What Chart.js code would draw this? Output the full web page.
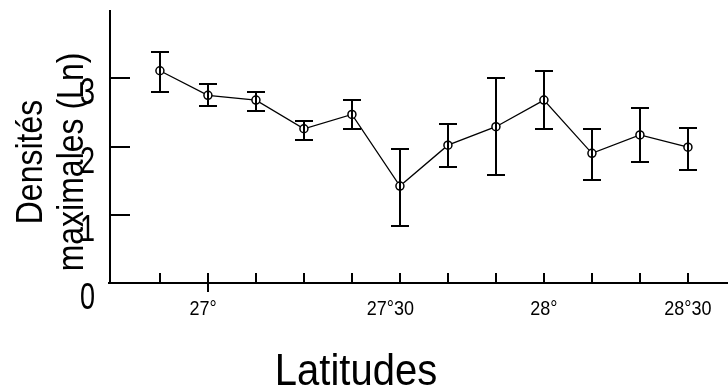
<!DOCTYPE html>
<html>
<head>
<meta charset="utf-8">
<script src="https://cdn.jsdelivr.net/npm/chart.js@4"></script>
<style>
  html, body { margin: 0; padding: 0; background: #fff; }
  canvas { display: block; }
</style>
</head>
<body>
<canvas id="densChart" width="728" height="387"></canvas>
<script>
// Stations along the coast (index), max densities (Ln) and error bar bounds
const stations = [1, 2, 3, 4, 5, 6, 7, 8, 9, 10, 11, 12];
const densiteMax = [3.11, 2.75, 2.68, 2.26, 2.47, 1.42, 2.02, 2.29, 2.68, 1.90, 2.17, 1.99];
const borneHaute = [3.39, 2.92, 2.80, 2.37, 2.68, 1.97, 2.33, 3.00, 3.11, 2.25, 2.56, 2.27];
const borneBasse = [2.80, 2.60, 2.52, 2.09, 2.25, 0.84, 1.70, 1.58, 2.25, 1.51, 1.78, 1.66];

// Axis ticks and labels
const yTicks = [0, 1, 2, 3];
const xMajorTick = 2;
const xLabels = ['27°', '27°30', '28°', '28°30'];
const xLabelPos = [1.9, 5.8, 9, 12];

const FONT = '"Liberation Sans", Arial, sans-serif';

// draw a (possibly stretched / rotated) text
function txt(ctx, s, x, y, size, sy, rot, align) {
  ctx.save();
  ctx.translate(x, y);
  ctx.rotate(rot);
  ctx.scale(1, sy);
  ctx.font = size + 'px ' + FONT;
  ctx.textAlign = align;
  ctx.textBaseline = 'alphabetic';
  ctx.fillStyle = '#000';
  ctx.fillText(s, 0, 0);
  ctx.restore();
}

const axesPlugin = {
  id: 'axesPlugin',
  beforeDatasetsDraw(chart) {
    const ctx = chart.ctx;
    const xs = chart.scales.x, ys = chart.scales.y;
    const a = chart.chartArea;
    const y0 = Math.round(ys.getPixelForValue(0));
    ctx.save();
    ctx.strokeStyle = '#000';
    ctx.lineWidth = 2;
    ctx.beginPath();
    // y axis
    ctx.moveTo(a.left, a.top);
    ctx.lineTo(a.left, y0 + 1);
    // x axis
    ctx.moveTo(a.left - 2, y0);
    ctx.lineTo(728, y0);
    // y ticks (inward)
    yTicks.forEach(v => {
      if (v === 0) return;
      const py = Math.round(ys.getPixelForValue(v));
      ctx.moveTo(a.left, py);
      ctx.lineTo(a.left + 20, py);
    });
    // x ticks
    stations.forEach(s => {
      const px = Math.round(xs.getPixelForValue(s));
      ctx.moveTo(px, y0 - 10);
      ctx.lineTo(px, s === xMajorTick ? y0 + 9 : y0);
    });
    ctx.stroke();
    ctx.restore();

    // tick labels
    yTicks.forEach(v => {
      const py = ys.getPixelForValue(v);
      txt(ctx, String(v), 95, py + 26, 27, 1.35, 0, 'right');
    });
    xLabels.forEach((l, i) => {
      txt(ctx, l, xs.getPixelForValue(xLabelPos[i]), y0 + 32, 18, 1.15, 0, 'center');
    });

    // axis titles
    txt(ctx, 'Latitudes', 356, 385, 40, 1.12, 0, 'center');
    txt(ctx, 'Densités', 42, 162, 32, 1.18, -Math.PI / 2, 'center');
    txt(ctx, 'maximales (Ln)', 83, 162, 32, 1.18, -Math.PI / 2, 'center');
  },
  afterDatasetsDraw(chart) {
    const ctx = chart.ctx;
    const xs = chart.scales.x, ys = chart.scales.y;
    ctx.save();
    ctx.strokeStyle = '#000';
    ctx.lineWidth = 2;
    ctx.beginPath();
    stations.forEach((s, i) => {
      const px = Math.round(xs.getPixelForValue(s));
      const top = Math.round(ys.getPixelForValue(borneHaute[i]));
      const bot = Math.round(ys.getPixelForValue(borneBasse[i]));
      ctx.moveTo(px, top);
      ctx.lineTo(px, bot);
      ctx.moveTo(px - 9, top);
      ctx.lineTo(px + 9, top);
      ctx.moveTo(px - 9, bot);
      ctx.lineTo(px + 9, bot);
    });
    ctx.stroke();
    ctx.restore();
  }
};

const ctx = document.getElementById('densChart').getContext('2d');
const densChart = new Chart(ctx, {
  type: 'line',
  data: {
    datasets: [{
      label: 'Densités maximales (Ln)',
      data: stations.map((s, i) => ({ x: s, y: densiteMax[i] })),
      borderColor: '#000',
      borderWidth: 1.3,
      tension: 0,
      pointRadius: 4,
      pointBorderWidth: 1.5,
      pointBackgroundColor: '#fff',
      pointBorderColor: '#000',
      clip: false
    }]
  },
  options: {
    responsive: false,
    devicePixelRatio: 1,
    animation: false,
    layout: { padding: { left: 110, right: 0, top: 10, bottom: 104 } },
    scales: {
      x: { type: 'linear', min: -0.04, max: 12.72, display: false },
      y: { type: 'linear', min: 0, max: 4, display: false }
    },
    plugins: {
      legend: { display: false },
      tooltip: { enabled: false }
    }
  },
  plugins: [axesPlugin]
});
</script>
</body>
</html>
